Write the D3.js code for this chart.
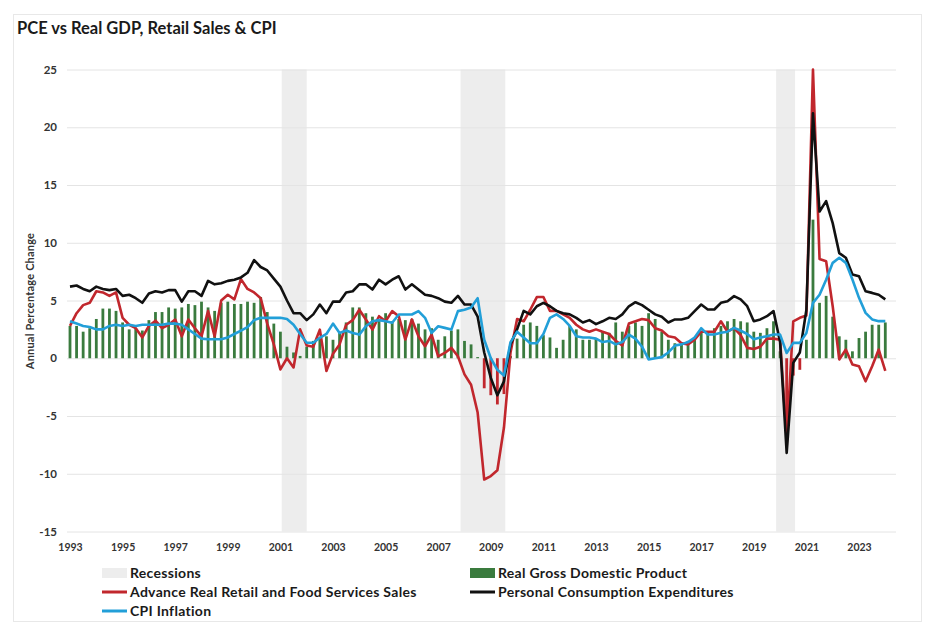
<!DOCTYPE html>
<html>
<head>
<meta charset="utf-8">
<script src="https://cdn.jsdelivr.net/npm/d3@7"></script>
<style>
  html, body { margin: 0; padding: 0; background: #fff; }
  svg { display: block; font-family: Lato, "Liberation Sans", sans-serif; }
</style>
</head>
<body>
<svg id="chart" width="936" height="626"></svg>
<script>
// ---------- DATA (quarterly, 1993Q1 .. 2024Q1) ----------
const startYear = 1993;
const xTickLabels = ["1993","1995","1997","1999","2001","2003","2005","2007","2009","2011","2013","2015","2017","2019","2021","2023"];
const yTicks = [-15, -10, -5, 0, 5, 10, 15, 20, 25];

// Recession bands in decimal years
const recessionStart = [2001.05, 2007.85, 2019.85];
const recessionEnd   = [2002.0, 2009.55, 2020.57];

// Real GDP, YoY %
const gdp = [
  2.8, 2.8, 2.3, 2.6,   3.4, 4.3, 4.3, 4.1,   3.1, 2.5, 2.6, 2.4,   3.3, 4.0, 4.0, 4.4,
  4.3, 4.4, 4.7, 4.6,   4.9, 4.4, 4.1, 4.8,   4.9, 4.7, 4.7, 4.9,   4.8, 5.3, 4.0, 3.0,
  2.3, 1.0, 0.5, 0.2,   1.0, 1.5, 1.8, 1.9,   1.6, 2.2, 3.1, 4.4,   4.4, 3.9, 3.6, 3.3,
  3.9, 3.2, 3.4, 3.3,   3.4, 3.0, 2.5, 2.6,   1.6, 1.9, 2.4, 2.5,   1.5, 1.2, 0.1, -2.6,
  -3.2, -4.0, -3.1, 0.2, 1.7, 2.9, 3.1, 2.8,  2.0, 1.8, 0.9, 1.6,   2.8, 2.5, 1.6, 1.6,
  1.7, 2.3, 2.2, 3.1,   2.3, 2.8, 3.1, 2.8,   3.9, 3.4, 2.3, 1.6,   1.3, 1.4, 1.5, 1.8,
  2.2, 2.2, 2.6, 2.8,   3.2, 3.4, 3.2, 3.1,   2.3, 2.2, 2.6, 3.2,   0.6, -7.5, -1.5, -1.0,
  1.6, 12.0, 4.8, 5.4,  3.6, 1.9, 1.6, 0.6,   1.75, 2.3, 2.9, 2.9,  3.1
];

// Advance Real Retail and Food Services Sales, YoY %
const retail = [
  2.8, 3.9, 4.6, 4.8,   5.8, 5.7, 5.4, 5.7,   3.5, 2.9, 2.6, 1.8,   2.8, 3.25, 2.6, 2.9,
  3.35, 1.9, 3.35, 2.6, 1.9, 4.1, 1.9, 5.0,   5.5, 5.1, 6.85, 6.0,  5.7, 5.2, 3.0, 1.2,
  -0.97, 0.0, -0.8, 2.5, 1.1, 1.0, 2.48, -1.1, 0.4, 1.2, 2.9, 3.3,  4.2, 3.36, 2.48, 3.64,
  3.2, 4.08, 3.64, 1.62, 3.36, 1.91, 1.04, 2.05, 0.17, 0.46, 0.9, 0.17, -1.4, -2.3, -4.7, -10.5,
  -10.2, -9.7, -6.0, 0.5, 3.4, 3.2, 4.2, 5.3,  5.3, 4.1, 4.1, 3.8,   3.5, 2.9, 2.5, 2.3,
  2.5, 2.3, 2.1, 1.5,   1.1, 3.0, 3.2, 3.4,   3.3, 2.6, 2.4, 1.9,   1.8, 1.3, 1.2, 1.6,
  2.3, 2.3, 2.3, 3.2,   2.3, 2.6, 2.0, 0.9,   0.8, 1.0, 1.7, 1.7,   1.6, -7.0, 3.2, 3.5,
  3.7, 25.0, 8.6, 8.4,  4.5, -0.1, 0.75, -0.55, -0.7, -2.0, -0.7, 0.75, -1.1
];

// Personal Consumption Expenditures, YoY %
const pce = [
  6.2, 6.3, 6.0, 5.8,   6.2, 6.0, 5.9, 6.0,   5.4, 5.5, 5.2, 4.8,   5.6, 5.8, 5.7, 5.9,
  5.9, 4.9, 5.8, 5.8,   5.4, 6.7, 6.4, 6.5,   6.7, 6.8, 7.0, 7.4,   8.5, 7.9, 7.6, 6.9,
  6.2, 5.0, 3.9, 3.9,   3.3, 3.8, 4.65, 3.9,  4.9, 4.9, 5.7, 5.8,   6.4, 6.4, 5.95, 6.8,
  6.4, 6.8, 7.1, 5.95,  6.4, 5.95, 5.5, 5.4,  5.2, 4.9, 4.8, 5.4,   4.65, 4.65, 3.6, 0.5,
  -1.7, -3.2, -2.0, 1.2, 2.5, 4.1, 3.8, 4.5,  4.8, 4.5, 4.1, 3.9,   3.8, 3.5, 3.1, 3.3,
  2.95, 3.2, 3.5, 3.4,  3.8, 4.5, 4.85, 4.6,  4.2, 3.8, 3.6, 3.1,   3.36, 3.36, 3.5, 4.08,
  4.65, 4.22, 4.22, 4.8, 4.94, 5.38, 5.09, 4.51, 3.21, 3.36, 3.64, 4.08, 1.4, -8.2, -0.4, 0.5,
  4.2, 21.2, 12.7, 13.6, 11.7, 9.1, 8.7, 7.25, 7.1, 5.8, 5.66, 5.5,  5.1
];

// CPI Inflation, YoY %
const cpi = [
  3.2, 3.0, 2.8, 2.7,   2.5, 2.5, 2.8, 2.9,   2.8, 2.9, 2.8, 2.9,   2.9, 2.9, 2.9, 3.0,
  3.0, 2.9, 2.5, 2.1,   1.7, 1.65, 1.65, 1.65, 1.8, 2.1, 2.4, 2.7,  3.3, 3.5, 3.5, 3.5,
  3.5, 3.4, 2.9, 2.1,   1.34, 1.34, 1.77, 2.1, 3.0, 2.19, 2.4, 2.19, 2.05, 2.77, 3.2, 3.3,
  3.2, 3.07, 3.79, 3.79, 3.79, 4.08, 3.5, 2.19, 2.77, 2.63, 2.48, 4.08, 4.2, 4.4, 5.2, 1.6,
  0.0, -1.0, -1.5, 1.4, 2.3, 1.8, 1.3, 1.3,   2.1, 3.5, 3.8, 3.4,   2.8, 1.9, 1.8, 1.8,
  1.7, 1.4, 1.5, 1.2,   1.4, 2.05, 1.7, 1.0,  -0.1, 0.0, 0.1, 0.5,  1.1, 1.2, 1.4, 1.8,
  2.6, 2.05, 2.05, 2.2, 2.3, 2.63, 2.4, 2.1,  1.65, 1.8, 1.9, 2.05, 2.05, 0.46, 1.33, 1.33,
  2.19, 4.8, 5.5, 6.8,  8.26, 8.7, 8.26, 6.82, 5.23, 3.93, 3.36, 3.21, 3.21
];

const seriesNames = ["Recessions", "Real Gross Domestic Product", "Advance Real Retail and Food Services Sales", "Personal Consumption Expenditures", "CPI Inflation"];

// ---------- STYLE ----------
const C = {
  rec: "#ededed", grid: "#e4e4e4", gdp: "#3a7b3e", gdpNeg: "#c1272d",
  retail: "#c1272d", pce: "#111111", cpi: "#229fd8", text: "#1a1a1a"
};

const svg = d3.select("#chart");

// chart frame
svg.append("rect").attr("x", 13.5).attr("y", 14.5).attr("width", 908).attr("height", 607)
  .attr("fill", "#fff").attr("stroke", "#e8e8e8");

const n = gdp.length;
const x = d3.scaleLinear().domain([0, n - 1]).range([70, 70 + (n - 1) * 6.575]);
const y = d3.scaleLinear().domain([-15, 25]).range([531.5, 69.5]);
const yearToIdx = yr => (yr - startYear) * 4;

// title
svg.append("text").attr("x", 17).attr("y", 34).attr("font-size", 16.5).attr("font-weight", 700)
  .attr("fill", C.text).text("PCE vs Real GDP, Retail Sales & CPI");

// recession bands
const rec = recessionStart.map((s, k) => ({ s, e: recessionEnd[k] }));
svg.append("g").selectAll("rect").data(rec).join("rect")
  .attr("x", d => x(yearToIdx(d.s))).attr("width", d => x(yearToIdx(d.e)) - x(yearToIdx(d.s)))
  .attr("y", y(25)).attr("height", y(-15) - y(25)).attr("fill", C.rec);

// grid + y axis labels
const yAxis = d3.axisLeft(y).tickValues(yTicks).tickSize(-(896 - 67)).tickFormat(d => String(d));
const gy = svg.append("g").attr("transform", "translate(67,0)").call(yAxis);
gy.select(".domain").remove();
gy.selectAll(".tick line").attr("stroke", C.grid).attr("stroke-width", 1);
gy.selectAll(".tick text").attr("x", -10).attr("font-size", 11.5).attr("font-weight", 700)
  .attr("fill", "#333").attr("font-family", "Lato, sans-serif");

// x axis labels
const xTickIdx = xTickLabels.map(l => yearToIdx(+l));
const xAxis = d3.axisBottom(x).tickValues(xTickIdx).tickSize(0)
  .tickFormat((d, k) => xTickLabels[k]);
const gx = svg.append("g").attr("transform", `translate(0,${y(-15) + 9})`).call(xAxis);
gx.select(".domain").remove();
gx.selectAll(".tick text").attr("font-size", 10.5).attr("font-weight", 700)
  .attr("fill", "#333").attr("font-family", "Lato, sans-serif");

// y axis title
svg.append("text").attr("transform", `translate(34,${301}) rotate(-90)`)
  .attr("text-anchor", "middle").attr("font-size", 11).attr("font-weight", 700)
  .attr("letter-spacing", 0.2).attr("fill", "#333").text("Annual Percentage Change");

// GDP bars
const bw = 2.8;
svg.append("g").selectAll("rect").data(gdp).join("rect")
  .attr("x", (d, i) => x(i) - bw / 2).attr("width", bw)
  .attr("y", d => y(Math.max(0, d))).attr("height", d => Math.abs(y(d) - y(0)))
  .attr("fill", d => d < 0 ? C.gdpNeg : C.gdp);

// lines
const line = d3.line().x((d, i) => x(i)).y(d => y(d)).curve(d3.curveLinear);
[[retail, C.retail], [pce, C.pce], [cpi, C.cpi]].forEach(([data, col]) => {
  svg.append("path").datum(data).attr("d", line).attr("fill", "none")
    .attr("stroke", col).attr("stroke-width", 2.6).attr("stroke-linejoin", "round");
});

// legend
const lg = svg.append("g").attr("font-size", 14).attr("font-weight", 700)
  .attr("letter-spacing", 0.3).attr("fill", C.text);
const legendItems = [
  { name: seriesNames[0], type: "rect", color: C.rec, sx: 102, ty: 573 },
  { name: seriesNames[1], type: "rect", color: C.gdp, sx: 470, ty: 573 },
  { name: seriesNames[2], type: "line", color: C.retail, sx: 102, ty: 592 },
  { name: seriesNames[3], type: "line", color: C.pce, sx: 470, ty: 592 },
  { name: seriesNames[4], type: "line", color: C.cpi, sx: 102, ty: 611 }
];
legendItems.forEach(it => {
  if (it.type === "rect") {
    lg.append("rect").attr("x", it.sx).attr("y", it.ty - 5).attr("width", 25).attr("height", 10).attr("fill", it.color);
  } else {
    lg.append("line").attr("x1", it.sx).attr("x2", it.sx + 25).attr("y1", it.ty).attr("y2", it.ty)
      .attr("stroke", it.color).attr("stroke-width", 3);
  }
  lg.append("text").attr("x", it.sx + 28).attr("y", it.ty).attr("dy", "0.35em").text(it.name);
});
</script>
</body>
</html>
